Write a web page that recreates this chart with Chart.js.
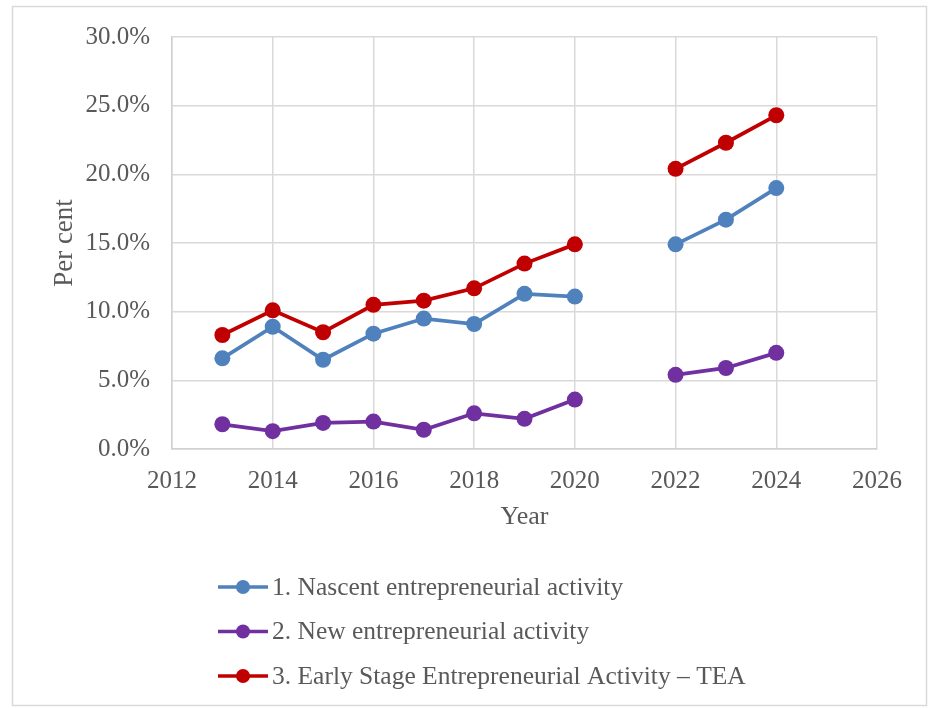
<!DOCTYPE html>
<html>
<head>
<meta charset="utf-8">
<script src="https://cdn.jsdelivr.net/npm/chart.js@4/dist/chart.umd.min.js"></script>
<style>
  body { margin: 0; background: #fff; }
  #wrap { width: 934px; height: 708px; position: relative; }
</style>
</head>
<body>
<div id="wrap"><canvas id="lineChart"></canvas></div>
<script>
// survey years, 2021 has no data so the lines break there
var years = [2013, 2014, 2015, 2016, 2017, 2018, 2019, 2020, 2021, 2022, 2023, 2024];

var nascent = [6.6, 8.9, 6.5, 8.4, 9.5, 9.1, 11.3, 11.1, null, 14.9, 16.7, 19.0];
var newActivity = [1.8, 1.3, 1.9, 2.0, 1.4, 2.6, 2.2, 3.6, null, 5.4, 5.9, 7.0];
var tea = [8.3, 10.1, 8.5, 10.5, 10.8, 11.7, 13.5, 14.9, null, 20.4, 22.3, 24.3];

var seriesNames = ['1. Nascent entrepreneurial activity', '2. New entrepreneurial activity', '3. Early Stage Entrepreneurial Activity \u2013 TEA'];
var seriesColors = ['#4F81BD', '#7030A0', '#C00000'];

var textColor = '#595959';
var gridColor = '#D9D9D9';
var fontFamily = '"Liberation Serif", "Times New Roman", serif';

function toPoints(values) {
  return years.map((yr, i) => ({x: yr, y: values[i]}));
}

function makeDataset(label, values, color) {
  return {
    label: label,
    data: toPoints(values),
    borderColor: color,
    backgroundColor: color,
    borderWidth: 3.75,
    pointRadius: 8,
    pointHoverRadius: 8,
    pointBorderWidth: 0,
    spanGaps: false,
    tension: 0
  };
}

// white background and thin frame round the whole chart
var framePlugin = {
  id: 'frame',
  beforeDraw(chart) {
    var ctx = chart.ctx;
    ctx.save();
    ctx.fillStyle = '#fff';
    ctx.fillRect(0, 0, chart.width, chart.height);
    ctx.strokeStyle = gridColor;
    ctx.lineWidth = 1.5;
    ctx.strokeRect(12.5, 6.5, 914, 699);
    ctx.restore();
  }
};

// legend stacked one entry per row under the x axis
var stackedLegend = {
  id: 'stackedLegend',
  afterDraw(chart, args, opts) {
    var ctx = chart.ctx;
    ctx.save();
    ctx.font = '25.5px ' + fontFamily;
    ctx.textBaseline = 'middle';
    chart.data.datasets.forEach((ds, i) => {
      var y = opts.top + i * opts.rowGap;
      ctx.strokeStyle = ds.borderColor;
      ctx.lineWidth = 3.5;
      ctx.beginPath();
      ctx.moveTo(opts.left, y);
      ctx.lineTo(opts.left + opts.lineLen, y);
      ctx.stroke();
      ctx.fillStyle = ds.borderColor;
      ctx.beginPath();
      ctx.arc(opts.left + opts.lineLen / 2, y, 7, 0, Math.PI * 2);
      ctx.fill();
      ctx.fillStyle = textColor;
      ctx.fillText(ds.label, opts.left + opts.lineLen + 4, y + 1);
    });
    ctx.restore();
  }
};

var ctxL = document.getElementById('lineChart').getContext('2d');
var myChart = new Chart(ctxL, {
  type: 'line',
  data: {
    datasets: [
      makeDataset(seriesNames[0], nascent, seriesColors[0]),
      makeDataset(seriesNames[1], newActivity, seriesColors[1]),
      makeDataset(seriesNames[2], tea, seriesColors[2])
    ]
  },
  options: {
    responsive: true,
    maintainAspectRatio: false,
    animation: false,
    layout: { padding: { left: 49, top: 35, right: 57, bottom: 175 } },
    plugins: {
      legend: { display: false },
      tooltip: { enabled: false },
      stackedLegend: { left: 218, lineLen: 50, top: 587, rowGap: 44.5 }
    },
    scales: {
      x: {
        type: 'linear',
        min: 2012,
        max: 2026,
        afterFit: scale => { scale.height = 84; },
        grid: { color: gridColor, lineWidth: 1.5, drawTicks: false },
        border: { color: '#D0D0D0', width: 1.5 },
        ticks: {
          stepSize: 2,
          padding: 17,
          color: textColor,
          font: { family: fontFamily, size: 25 },
          maxRotation: 0,
          callback: v => String(v)
        },
        title: {
          display: true,
          text: 'Year',
          color: textColor,
          padding: 0,
          font: { family: fontFamily, size: 26 }
        }
      },
      y: {
        min: 0,
        max: 30,
        afterFit: scale => { scale.width = 172 - 49; },
        grid: { color: gridColor, lineWidth: 1.5, drawTicks: false },
        border: { color: '#D0D0D0', width: 1.5 },
        ticks: {
          stepSize: 5,
          padding: 22,
          color: textColor,
          font: { family: fontFamily, size: 25 },
          callback: v => v.toFixed(1) + '%'
        },
        title: {
          display: true,
          text: 'Per cent',
          color: textColor,
          padding: 0,
          font: { family: fontFamily, size: 27 }
        }
      }
    }
  },
  plugins: [framePlugin, stackedLegend]
});
</script>
</body>
</html>
